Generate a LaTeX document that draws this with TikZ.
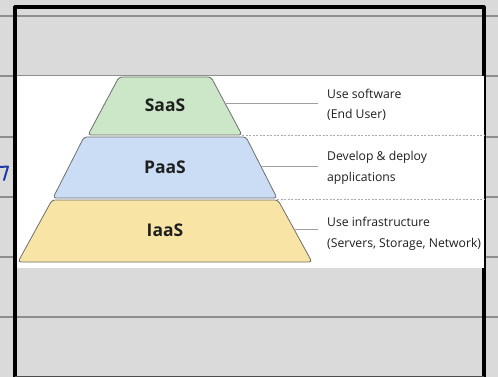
\documentclass[tikz,border=0pt]{standalone}
\usepackage{fontspec}
\setmainfont{Open Sans}
\usetikzlibrary{positioning}
\definecolor{paper}{HTML}{DADADA}
\definecolor{ruling}{HTML}{8E8E8E}
\definecolor{saasgreen}{HTML}{CBE7C8}
\definecolor{paasblue}{HTML}{CADDF4}
\definecolor{iaasyellow}{HTML}{F8E5A6}
\definecolor{edgegray}{HTML}{6F6F6F}
\definecolor{ink}{HTML}{1E3AA8}
\tikzset{
    layer/.style={
        draw=edgegray,
        line width=0.8pt,
        rounded corners=3pt
    },
    tag/.style={
        font=\fontsize{17.5}{20}\selectfont\bfseries,
        text=black!88
    },
    descr/.style={
        anchor=west,
        align=left,
        inner xsep=9pt,
        font=\fontsize{12.2}{20.5}\selectfont,
        text=black!88
    },
    leader/.style={
        draw=gray!75,
        line width=0.8pt
    },
    divider/.style={
        draw=gray!65,
        line width=0.7pt,
        dash pattern=on 2pt off 1.5pt
    },
    panel/.style={
        fill=white,
        inner sep=0pt,
        minimum width=467pt,
        minimum height=192pt
    }
}

\begin{document}
\begin{tikzpicture}[x=1pt,y=-1pt]
\fill[paper] (0,0) rectangle (498,377);
\useasboundingbox (0,0) rectangle (498,377);

% notebook page
\foreach \y in {16,76,137,197,257,317}
    \draw[ruling, line width=1.2pt] (0,\y) -- (498,\y);
\draw[black, line width=3.2pt, line join=round] (15,390) -- (15,7) -- (484,7) -- (484,390);
\draw[black!70, line width=1pt] (15,376.5) -- (484,376.5);
\draw[ink, line width=2pt, line cap=round] (0,167) -- (8,166.5) (8,166.5) -- (4,180);

% pasted figure
\node[panel] (panel) at (250.5,172) {};

\draw[layer, fill=saasgreen] (119,77) -- (211,77) -- (242,135) -- (88,135) -- cycle;
\draw[layer, fill=paasblue] (84,137) -- (246,137) -- (277,198) -- (53,198) -- cycle;
\draw[layer, fill=iaasyellow] (52,200) -- (278,200) -- (312,262) -- (18,262) -- cycle;

\node[tag] (saas) at (165,105.5) {SaaS};
\node[tag] (paas) at (165,167.5) {PaaS};
\node[tag] (iaas) at (165,230) {IaaS};

\coordinate (saas-edge) at (225,103);
\coordinate (paas-edge) at (260.5,166);
\coordinate (iaas-edge) at (294,229);
\coordinate (saas-foot) at (242,135);
\coordinate (paas-foot) at (277,199);

\node[descr] (saas-txt) at (318,105) {Use software\\(End User)};
\node[descr] (paas-txt) at (318,168) {Develop \& deploy\\applications};
\node[descr] (iaas-txt) at (318,234) {Use infrastructure\\(Servers, Storage, Network)};

\draw[leader] (saas-edge) -- (saas-edge -| saas-txt.west);
\draw[leader] (paas-edge) -- (paas-edge -| paas-txt.west);
\draw[leader] (iaas-edge) -- (iaas-edge -| iaas-txt.west);

\draw[divider] (saas-foot) -- (saas-foot -| panel.east);
\draw[divider] (paas-foot) -- (paas-foot -| panel.east);

\end{tikzpicture}
\end{document}
